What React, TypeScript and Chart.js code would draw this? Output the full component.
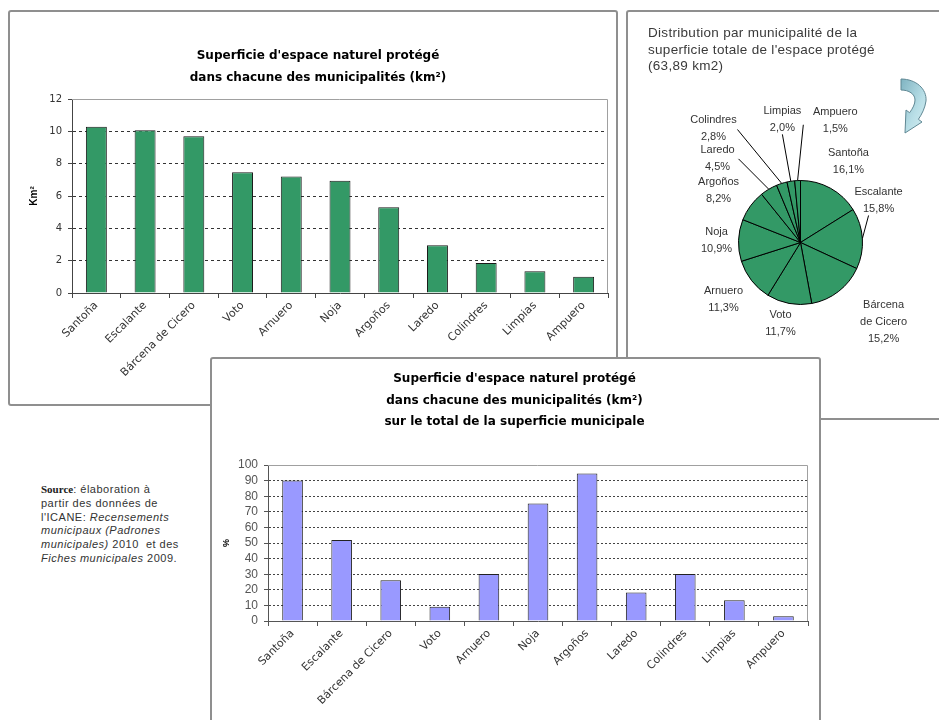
import React, { useEffect, useRef } from "react";
import { Chart, registerables } from "chart.js";

Chart.register(...registerables);

// ---------------- data ----------------
const municipalities = [
  "Santoña",
  "Escalante",
  "Bárcena de Cicero",
  "Voto",
  "Arnuero",
  "Noja",
  "Argoños",
  "Laredo",
  "Colindres",
  "Limpias",
  "Ampuero",
];
const protectedAreaKm2 = [10.29, 10.06, 9.7, 7.47, 7.21, 6.95, 5.3, 2.95, 1.85, 1.35, 1.0];
const areaAxisTicks = [0, 2, 4, 6, 8, 10, 12];
const shareOfTotalPct = [16.1, 15.8, 15.2, 11.7, 11.3, 10.9, 8.2, 4.5, 2.8, 2.0, 1.5];
const shareOfMunicipalAreaPct = [90, 52, 26.2, 9.2, 30.1, 75.3, 94.6, 18.3, 30.1, 13.3, 3];
const pctAxisTicks = [0, 10, 20, 30, 40, 50, 60, 70, 80, 90, 100];

const areaTitle = ["Superficie d'espace naturel protégé", "dans chacune des municipalités (km²)"];
const pctTitle = [
  "Superficie d'espace naturel protégé",
  "dans chacune des municipalités (km²)",
  "sur le total de la superficie municipale",
];
const pieTitle = [
  "Distribution par municipalité de la",
  "superficie totale de l'espace protégé",
  "(63,89 km2)",
];

const GREEN = "#339966";
const LAVENDER = "#9999ff";

const fmtPct = (v: number) => v.toFixed(1).replace(".", ",") + "%";
const nameLines = (n: string) => {
  if (n.length > 10 && n.indexOf(" ") > 0) {
    const i = n.indexOf(" ");
    return [n.slice(0, i), n.slice(i + 1)];
  }
  return [n];
};

// -------------- plugins ---------------
const plotBorder = {
  id: "plotBorder",
  beforeDatasetsDraw(chart: any, _a: any, opts: any) {
    const { ctx, chartArea: a } = chart;
    ctx.save();
    ctx.strokeStyle = opts.color || "#999";
    ctx.lineWidth = 1;
    ctx.beginPath();
    ctx.moveTo(a.left, Math.round(a.top) + 0.5);
    ctx.lineTo(Math.round(a.right) - 0.5, Math.round(a.top) + 0.5);
    ctx.lineTo(Math.round(a.right) - 0.5, a.bottom);
    ctx.stroke();
    ctx.restore();
  },
};

// label placement around the pie: rotation from slice middle (deg), distance (in radii), leader start offset
const piePlacement: { turn: number; dist: number; leader?: [number, number] }[] = [
  { turn: 1.6, dist: 1.52 },
  { turn: -24.7, dist: 1.43, leader: [-10, 15] },
  { turn: -8.3, dist: 1.86 },
  { turn: 3.2, dist: 1.35 },
  { turn: 1.7, dist: 1.54 },
  { turn: -0.3, dist: 1.355 },
  { turn: -4, dist: 1.565 },
  { turn: -14, dist: 1.9, leader: [21, 0] },
  { turn: -19.6, dist: 2.32, leader: [24, 1.5] },
  { turn: 0.6, dist: 2.0, leader: [0, 14.5] },
  { turn: 18.6, dist: 2.05, leader: [-32, 4.5] },
];

const pieLabels = {
  id: "pieLabels",
  afterDatasetsDraw(chart: any) {
    const { ctx } = chart;
    const meta = chart.getDatasetMeta(0);
    const labels = chart.data.labels as string[];
    const values = chart.data.datasets[0].data as number[];
    ctx.save();
    ctx.font = '11px "Liberation Sans", Arial, sans-serif';
    ctx.fillStyle = "#333";
    ctx.textAlign = "center";
    ctx.textBaseline = "middle";
    meta.data.forEach((arc: any, i: number) => {
      const { x, y, startAngle, endAngle, outerRadius } = arc.getProps(
        ["x", "y", "startAngle", "endAngle", "outerRadius"],
        true
      );
      const mid = (startAngle + endAngle) / 2;
      const p = piePlacement[i];
      const a = mid + (p.turn * Math.PI) / 180;
      const lx = x + Math.cos(a) * outerRadius * p.dist;
      const ly = y + Math.sin(a) * outerRadius * p.dist;
      const lines = [...nameLines(labels[i]), fmtPct(values[i])];
      const lh = 17;
      lines.forEach((t, k) => ctx.fillText(t, lx, ly + (k - (lines.length - 1) / 2) * lh));
      if (p.leader) {
        ctx.beginPath();
        ctx.moveTo(lx + p.leader[0], ly + p.leader[1]);
        ctx.lineTo(x + Math.cos(mid) * outerRadius, y + Math.sin(mid) * outerRadius);
        ctx.strokeStyle = "#000";
        ctx.lineWidth = 1;
        ctx.stroke();
      }
    });
    ctx.restore();
  },
};

// -------------- builders --------------
function makeBar(canvas: HTMLCanvasElement, o: any) {
  const ticks = o.ticks as number[];
  const max = ticks[ticks.length - 1];
  return new Chart(canvas, {
    type: "bar",
    data: {
      labels: municipalities,
      datasets: [
        {
          data: o.values,
          backgroundColor: o.color,
          borderColor: o.edge,
          borderWidth: 1,
          barPercentage: o.barPct,
          categoryPercentage: 1,
        },
      ],
    },
    options: {
      animation: false,
      responsive: false,
      events: [],
      layout: { padding: o.padding },
      plugins: {
        legend: { display: false },
        tooltip: { enabled: false },
        title: {
          display: true,
          text: o.title,
          color: "#000",
          font: { family: "DejaVu Sans", size: 12, weight: "bold", lineHeight: o.titleLH },
          padding: o.titlePad,
        },
        plotBorder: { color: "#a0a0a0" },
      } as any,
      scales: {
        x: {
          grid: {
            offset: true,
            drawOnChartArea: false,
            drawTicks: true,
            tickLength: 5,
            color: o.axisColor,
            tickColor: o.axisColor,
          },
          border: { color: o.axisColor, width: 1 },
          ticks: {
            autoSkip: false,
            minRotation: 45,
            maxRotation: 45,
            padding: 1,
            color: o.xTickColor,
            font: o.xTickFont,
          },
          afterFit: (s: any) => {
            s.height = o.xAxisHeight;
          },
        },
        y: {
          min: ticks[0],
          max,
          ticks: {
            stepSize: ticks[1] - ticks[0],
            autoSkip: false,
            padding: 6,
            color: o.yTickColor,
            font: o.yTickFont,
          },
          grid: {
            color: (c: any) =>
              c.tick && (c.tick.value === max || c.tick.value === ticks[0]) ? "rgba(0,0,0,0)" : o.gridColor,
            tickColor: o.axisColor,
            tickLength: 4,
            lineWidth: 1,
          },
          border: { color: o.axisColor, width: 1, dash: o.dash },
          title: {
            display: true,
            text: o.yTitle,
            color: "#000",
            font: { family: "Liberation Sans", size: o.yTitleSize, weight: "bold", lineHeight: 1.2 },
            padding: { top: 0, bottom: 0 },
          },
          afterFit: (s: any) => {
            s.width = o.yAxisWidth;
          },
        },
      },
    } as any,
    plugins: [plotBorder as any],
  });
}

function makePie(canvas: HTMLCanvasElement) {
  return new Chart(canvas, {
    type: "pie",
    data: {
      labels: municipalities,
      datasets: [
        {
          data: shareOfTotalPct,
          backgroundColor: GREEN,
          borderColor: "#000",
          borderWidth: 1,
        },
      ],
    },
    options: {
      animation: false,
      responsive: false,
      events: [],
      layout: { padding: { left: 110, right: 76, top: 168, bottom: 113 } },
      plugins: { legend: { display: false }, tooltip: { enabled: false } },
    } as any,
    plugins: [pieLabels as any],
  });
}

const panel: React.CSSProperties = {
  position: "absolute",
  boxSizing: "border-box",
  border: "2px solid #8f8f8f",
  borderRadius: 3,
  background: "#fff",
};

export default function App() {
  const barRef = useRef<HTMLCanvasElement>(null);
  const pieRef = useRef<HTMLCanvasElement>(null);
  const pctRef = useRef<HTMLCanvasElement>(null);

  useEffect(() => {
    const charts = [
      makeBar(barRef.current!, {
        values: protectedAreaKm2,
        ticks: areaAxisTicks,
        color: GREEN,
        edge: "#1a1a1a",
        barPct: 0.43,
        padding: { left: 18, right: 8, top: 0, bottom: 0 },
        title: areaTitle,
        titleLH: "22px",
        titlePad: { top: 33, bottom: 10 },
        axisColor: "#444",
        gridColor: "#333",
        dash: [3, 3],
        xTickColor: "#333",
        xTickFont: { family: "DejaVu Sans", size: 11 },
        yTickColor: "#333",
        yTickFont: { family: "DejaVu Sans", size: 10 },
        yTitle: "Km²",
        yTitleSize: 10,
        yAxisWidth: 44,
        xAxisHeight: 111,
      }),
      makePie(pieRef.current!),
      makeBar(pctRef.current!, {
        values: shareOfMunicipalAreaPct,
        ticks: pctAxisTicks,
        color: LAVENDER,
        edge: "#222",
        barPct: 0.42,
        padding: { left: 9, right: 11, top: 0, bottom: 0 },
        title: pctTitle,
        titleLH: "21.5px",
        titlePad: { top: 9.25, bottom: 32.25 },
        axisColor: "#555",
        gridColor: "#444",
        dash: [2, 2],
        xTickColor: "#333",
        xTickFont: { family: "DejaVu Sans", size: 11 },
        yTickColor: "#555",
        yTickFont: { family: "Liberation Sans", size: 12 },
        yTitle: "%",
        yTitleSize: 9,
        yAxisWidth: 47,
        xAxisHeight: 99,
      }),
    ];
    return () => charts.forEach((c) => c.destroy());
  }, []);

  return (
    <div
      style={{
        position: "absolute",
        left: 0,
        top: 0,
        width: 939,
        height: 720,
        overflow: "hidden",
        background: "#fff",
        fontFamily: '"Liberation Sans", Arial, sans-serif',
      }}
    >
      <div style={{ ...panel, left: 8, top: 10, width: 610, height: 396 }}>
        <canvas ref={barRef} width={606} height={392} style={{ position: "absolute", left: 0, top: 0 }} />
      </div>

      <div style={{ ...panel, left: 626, top: 10, width: 320, height: 410 }}>
        <canvas ref={pieRef} width={311} height={406} style={{ position: "absolute", left: 0, top: 0 }} />
        <div
          style={{
            position: "absolute",
            left: 20,
            top: 13,
            fontSize: 13.5,
            lineHeight: "16.5px",
            letterSpacing: 0.3,
            color: "#3a3a3a",
            whiteSpace: "nowrap",
          }}
        >
          {pieTitle.map((t, i) => (
            <div key={i}>{t}</div>
          ))}
        </div>
        <svg
          style={{ position: "absolute", left: 252, top: 58 }}
          width={55}
          height={75}
          viewBox="880 70 55 75"
        >
          <defs>
            <linearGradient id="arrowFill" x1="0" y1="0" x2="1" y2="1">
              <stop offset="0" stopColor="#7fb3c1" />
              <stop offset="0.6" stopColor="#b9dfe7" />
              <stop offset="1" stopColor="#d6eef2" />
            </linearGradient>
          </defs>
          <path
            d="M 901 79 C 916 79, 927 89, 926 101 C 925 108, 922 114, 918.4 119.3 L 922 122 L 905 133 L 906 110 L 909.6 112.7 C 913 108, 915 104, 915 100 C 915 94, 909 90, 901 90 Z"
            fill="url(#arrowFill)"
            stroke="#5f8793"
            strokeWidth={1}
          />
        </svg>
      </div>

      <div
        style={{
          position: "absolute",
          left: 41,
          top: 483,
          fontSize: 11,
          lineHeight: "13.8px",
          letterSpacing: 0.5,
          color: "#333",
          whiteSpace: "nowrap",
        }}
      >
        <b style={{ fontFamily: '"Liberation Serif", "Times New Roman", serif', letterSpacing: 0, color: "#222" }}>
          Source
        </b>
        : élaboration à<br />
        partir des données de
        <br />
        l'ICANE: <i>Recensements</i>
        <br />
        <i>municipaux (Padrones</i>
        <br />
        <i>municipales)</i> 2010&nbsp; et des
        <br />
        <i>Fiches municipales</i> 2009.
      </div>

      <div style={{ ...panel, left: 210, top: 357, width: 611, height: 400 }}>
        <canvas ref={pctRef} width={607} height={361} style={{ position: "absolute", left: 0, top: 0 }} />
      </div>
    </div>
  );
}
